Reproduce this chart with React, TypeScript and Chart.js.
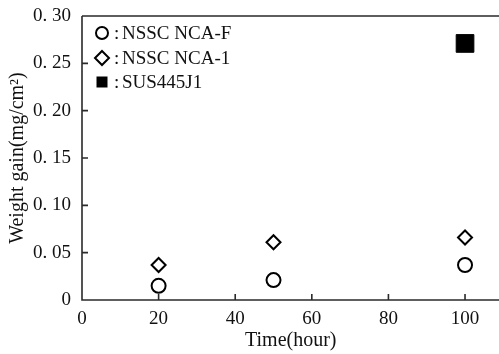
import React, { useEffect, useRef } from "react";
import { Chart, registerables } from "chart.js";

Chart.register(...registerables);

const hours = [20, 50, 100];
const ncaF = [0.015, 0.021, 0.037];
const nca1 = [0.037, 0.061, 0.066];
const susHours = [100];
const sus445 = [0.271];
const xTicks = [0, 20, 40, 60, 80, 100];
const yTickLabels = ["0", "0. 05", "0. 10", "0. 15", "0. 20", "0. 25", "0. 30"];
const seriesLabels = [":NSSC NCA-F", ":NSSC NCA-1", ":SUS445J1"];

const FONT = "'Liberation Serif', 'DejaVu Serif', serif";
const AXIS_COLOR = "#2a2a2a";

function marker(ctx: CanvasRenderingContext2D, style: string, cx: number, cy: number) {
  ctx.beginPath();
  if (style === "circle") {
    ctx.arc(cx, cy, 6, 0, Math.PI * 2);
    ctx.stroke();
  } else if (style === "rectRot") {
    const r = 7;
    ctx.moveTo(cx, cy - r);
    ctx.lineTo(cx + r, cy);
    ctx.lineTo(cx, cy + r);
    ctx.lineTo(cx - r, cy);
    ctx.closePath();
    ctx.stroke();
  } else {
    ctx.rect(cx - 5.5, cy - 5.5, 11, 11);
    ctx.fill();
  }
}

const frame = {
  id: "frame",
  afterDraw(chart: any) {
    const { ctx, chartArea, scales } = chart;
    const xs = scales.x;
    const ys = scales.y;
    ctx.save();
    ctx.strokeStyle = AXIS_COLOR;
    ctx.lineWidth = 1.6;
    ctx.beginPath();
    ctx.moveTo(chartArea.left, chartArea.top);
    ctx.lineTo(chartArea.right + 2, chartArea.top);
    ctx.moveTo(chartArea.left, chartArea.top);
    ctx.lineTo(chartArea.left, chartArea.bottom);
    ctx.lineTo(chartArea.right + 2, chartArea.bottom);
    xs.ticks.forEach((t: any) => {
      const px = xs.getPixelForValue(t.value);
      if (t.value === 0) return;
      ctx.moveTo(px, chartArea.bottom);
      ctx.lineTo(px, chartArea.bottom - 6);
    });
    ys.ticks.forEach((t: any) => {
      const py = ys.getPixelForValue(t.value);
      if (t.value === 0) return;
      ctx.moveTo(chartArea.left, py);
      ctx.lineTo(chartArea.left + 6, py);
    });
    ctx.stroke();

    // legend
    const rows = [33, 58, 82];
    chart.data.datasets.forEach((ds: any, i: number) => {
      const cx = chartArea.left + 20;
      const cy = rows[i];
      ctx.fillStyle = "#000";
      ctx.strokeStyle = "#000";
      ctx.lineWidth = 2;
      marker(ctx, ds.pointStyle, cx, cy);
      ctx.fillStyle = "#111";
      ctx.font = `19px ${FONT}`;
      ctx.textBaseline = "middle";
      ctx.textAlign = "left";
      const label: string = ds.label;
      ctx.fillText(label.slice(0, 1), cx + 12, cy + 1);
      ctx.fillText(label.slice(1), cx + 20, cy + 1);
    });
    ctx.restore();
  },
};

export default function App() {
  const ref = useRef<HTMLCanvasElement>(null);
  useEffect(() => {
    const chart = new Chart(ref.current!, {
      type: "scatter",
      data: {
        datasets: [
          {
            label: seriesLabels[0],
            data: hours.map((h, i) => ({ x: h, y: ncaF[i] })),
            pointStyle: "circle",
            pointRadius: 7,
            borderWidth: 2,
            borderColor: "#000",
            backgroundColor: "rgba(0,0,0,0)",
          },
          {
            label: seriesLabels[1],
            data: hours.map((h, i) => ({ x: h, y: nca1[i] })),
            pointStyle: "rectRot",
            pointRadius: 7,
            borderWidth: 2,
            borderColor: "#000",
            backgroundColor: "rgba(0,0,0,0)",
          },
          {
            label: seriesLabels[2],
            data: susHours.map((h, i) => ({ x: h, y: sus445[i] })),
            pointStyle: "rect",
            pointRadius: 12.5,
            borderWidth: 1,
            borderColor: "#000",
            backgroundColor: "#000",
          },
        ],
      } as any,
      options: {
        animation: false,
        responsive: false,
        maintainAspectRatio: false,
        layout: { padding: { top: 16, right: 0, left: 0, bottom: 0 } },
        plugins: { legend: { display: false }, tooltip: { enabled: false } },
        scales: {
          x: {
            type: "linear",
            min: 0,
            max: 109,
            afterBuildTicks: (s: any) => {
              s.ticks = xTicks.map((v) => ({ value: v }));
            },
            afterFit: (s: any) => {
              s.height = 54;
            },
            grid: { display: false, drawTicks: false },
            border: { display: false },
            ticks: {
              color: "#111",
              padding: 8,
              font: { family: FONT, size: 19 },
              maxRotation: 0,
            },
            title: {
              display: true,
              text: "Time(hour)",
              color: "#111",
              font: { family: FONT, size: 20 },
              padding: { top: 0, bottom: 1 },
            },
          },
          y: {
            type: "linear",
            min: 0,
            max: 0.3,
            afterBuildTicks: (s: any) => {
              s.ticks = yTickLabels.map((_, i) => ({ value: i * 0.05 }));
            },
            afterFit: (s: any) => {
              s.width = 82;
              s.paddingTop = 0;
              s.paddingBottom = 0;
            },
            grid: { display: false, drawTicks: false },
            border: { display: false },
            ticks: {
              color: "#111",
              padding: 11,
              font: { family: FONT, size: 19 },
              callback: (_v: any, i: number) => yTickLabels[i],
            },
            title: {
              display: true,
              text: "Weight gain(mg/cm²)",
              color: "#111",
              font: { family: FONT, size: 20 },
              padding: { top: 6, bottom: 0 },
            },
          },
        },
      },
      plugins: [frame],
    });
    return () => chart.destroy();
  }, []);
  return (
    <div style={{ position: "fixed", left: 0, top: 0, width: 499, height: 354, overflow: "hidden", background: "#fff" }}>
      <canvas ref={ref} width={513} height={354} style={{ width: 513, height: 354, display: "block" }} />
    </div>
  );
}
